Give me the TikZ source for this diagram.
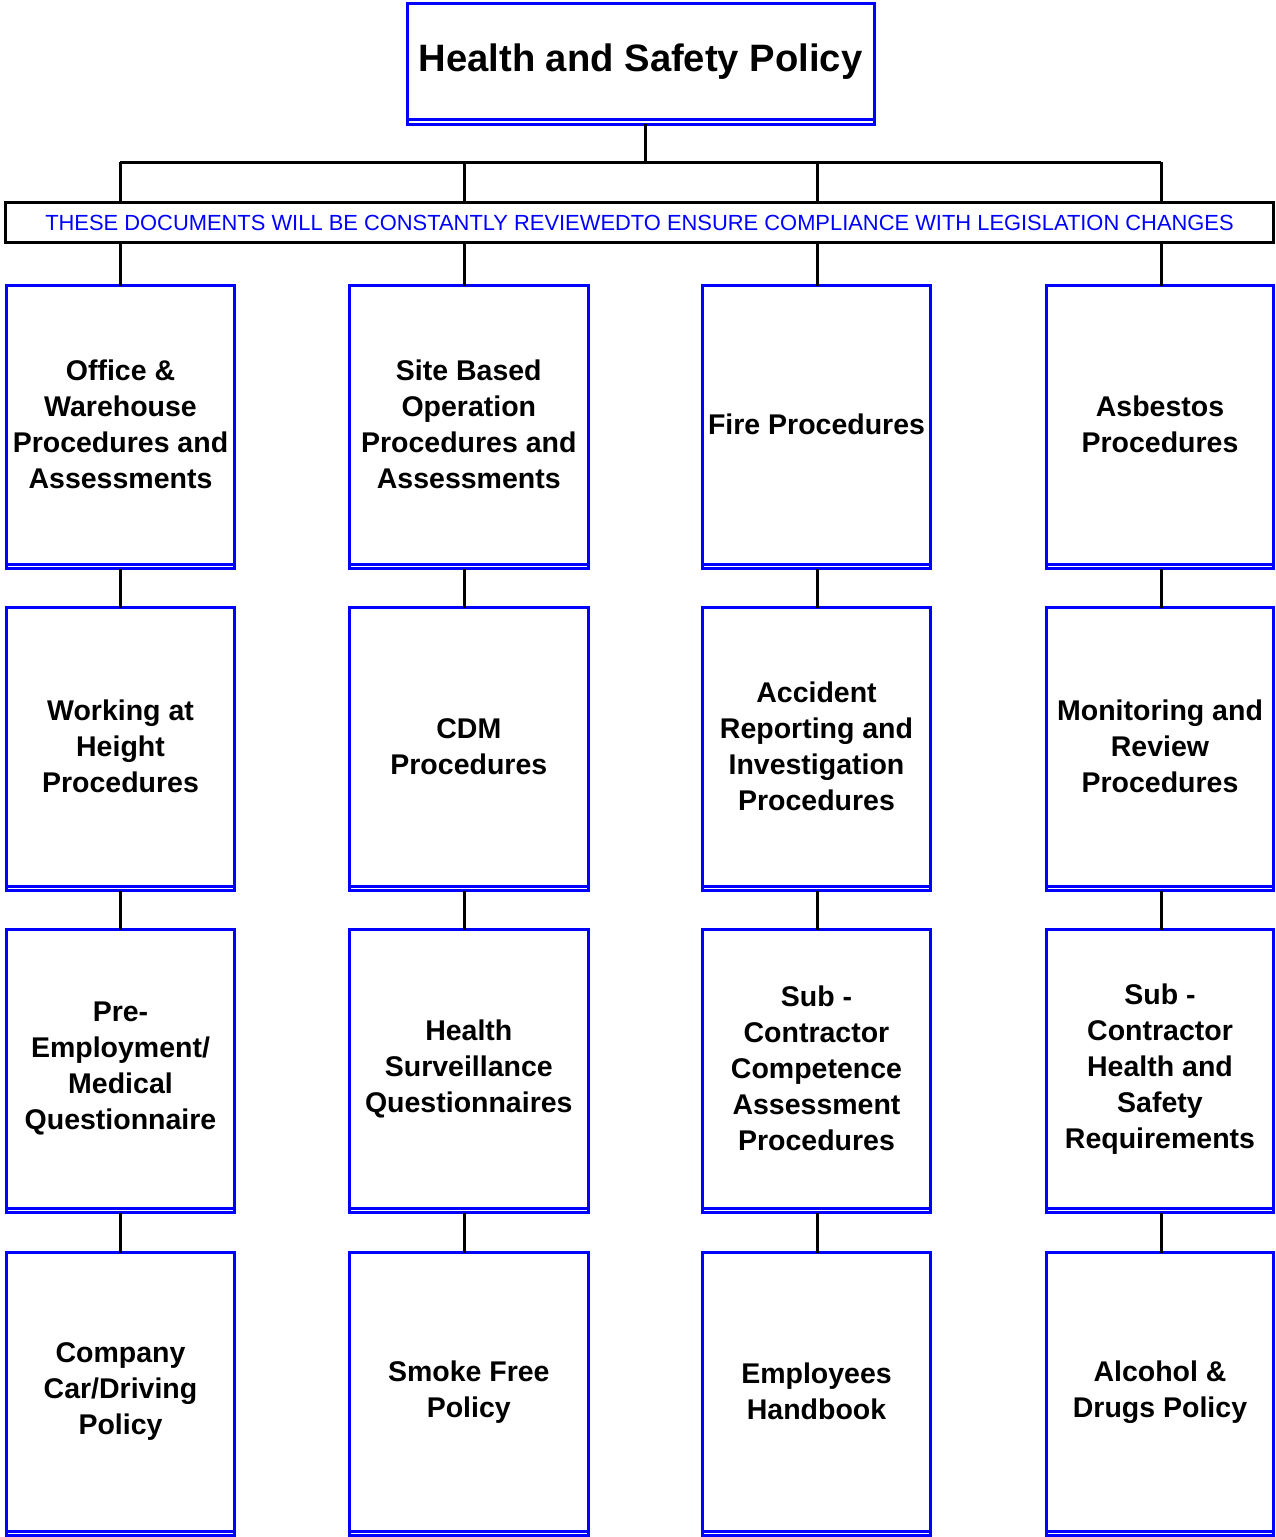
\documentclass[tikz,border=0pt]{standalone}
\usepackage{fontspec}
\setmainfont{Liberation Sans}
\definecolor{pblue}{RGB}{0,0,255}
\begin{document}
\begin{tikzpicture}[x=1pt,y=-1pt,
  every node/.style={outer sep=0pt},
  link/.style={draw=black,line width=3pt},
  dblbase/.style={append after command={
    \pgfextra{\draw[draw=pblue,line width=3pt]
      (\tikzlastnode.south west) -- ([yshift=-4.5pt]\tikzlastnode.south west)
      -- ([yshift=-4.5pt]\tikzlastnode.south east) -- (\tikzlastnode.south east);}}},
  doc/.style={draw=pblue,line width=3pt,inner sep=0pt,align=center,
    minimum height=278.5pt,font=\fontsize{28.5}{36}\selectfont\bfseries,dblbase},
  c1/.style={doc,minimum width=228.5pt},
  c2/.style={doc,minimum width=238.5pt},
  c3/.style={doc,minimum width=228pt},
  c4/.style={doc,minimum width=227.5pt}]
\useasboundingbox (0,0) rectangle (1275,1537);

% policy heading
\node[draw=pblue,line width=3pt,minimum width=467pt,minimum height=116.5pt,
  inner sep=0pt,font=\fontsize{38.2}{44}\selectfont\bfseries,dblbase]
  (policy) at (640.5,61.25) {Health and Safety Policy};

% review banner
\node[draw=black,line width=3pt,minimum width=1268pt,minimum height=40pt,
  inner sep=0pt,text=pblue,font=\fontsize{21.9}{26}\selectfont]
  (banner) at (639.5,222.5)
  {THESE DOCUMENTS WILL BE CONSTANTLY REVIEWEDTO ENSURE COMPLIANCE WITH LEGISLATION CHANGES};

% branch points
\coordinate (hub) at (645,162);
\coordinate (t1) at (120,162);
\coordinate (t2) at (464,162);
\coordinate (t3) at (817,162);
\coordinate (t4) at (1161,162);

% document boxes
\node[c1] (b11) at (120.5,424.75) {Office \&\\Warehouse\\Procedures and\\Assessments};
\node[c2] (b12) at (468.8,424.75) {Site Based\\Operation\\Procedures and\\Assessments};
\node[c3] (b13) at (816.5,424.75) {Fire Procedures};
\node[c4] (b14) at (1160,424.75) {Asbestos\\Procedures};

\node[c1] (b21) at (120.5,746.75) {Working at\\Height\\Procedures};
\node[c2] (b22) at (468.8,746.75) {CDM\\Procedures};
\node[c3] (b23) at (816.5,746.75) {Accident\\Reporting and\\Investigation\\Procedures};
\node[c4] (b24) at (1160,746.75) {Monitoring and\\Review\\Procedures};

\node[c1] (b31) at (120.5,1068.75) {Pre-\\Employment/\\Medical\\Questionnaire};
\node[c2] (b32) at (468.8,1068.75) {Health\\Surveillance\\Questionnaires};
\node[c3] (b33) at (816.5,1068.75) {Sub -\\Contractor\\Competence\\Assessment\\Procedures};
\node[c4] (b34) at (1160,1068.75) {Sub -\\Contractor\\Health and\\Safety\\Requirements};

\node[c1] (b41) at (120.5,1391.75) {Company\\Car/Driving\\Policy};
\node[c2] (b42) at (468.8,1391.75) {Smoke Free\\Policy};
\node[c3] (b43) at (816.5,1391.75) {Employees\\Handbook};
\node[c4] (b44) at (1160,1391.75) {Alcohol \&\\Drugs Policy};

% connectors
\draw[link] ([yshift=-4.5pt]policy.south -| hub) -- (hub);
\draw[link] (t1) -- (t4);
\foreach \i in {1,2,3,4}{
  \draw[link] (t\i) -- (t\i |- banner.north);
  \draw[link] (t\i |- banner.south) -- (t\i |- b1\i.north);
  \draw[link] ([yshift=-4.5pt]t\i |- b1\i.south) -- (t\i |- b2\i.north);
  \draw[link] ([yshift=-4.5pt]t\i |- b2\i.south) -- (t\i |- b3\i.north);
  \draw[link] ([yshift=-4.5pt]t\i |- b3\i.south) -- (t\i |- b4\i.north);
}
\end{tikzpicture}
\end{document}
